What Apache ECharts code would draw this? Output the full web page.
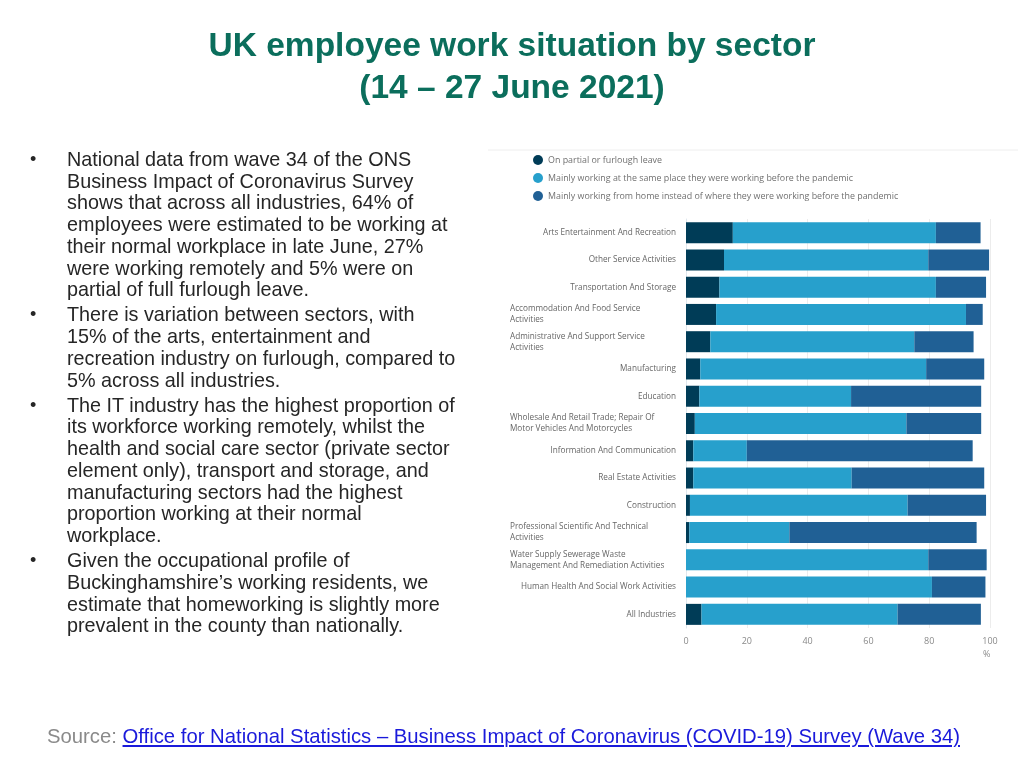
<!DOCTYPE html>
<html><head><meta charset="utf-8">
<script src="https://cdn.jsdelivr.net/npm/echarts@6/dist/echarts.min.js"></script>
<style>
html,body{margin:0;padding:0;background:#fff;width:1024px;height:768px;overflow:hidden}
#chart{position:absolute;left:0;top:0;width:1024px;height:768px}
.title{position:absolute;left:0;width:1024px;text-align:center;color:#0b6e5c;font-family:"Liberation Sans",Arial,sans-serif;font-weight:bold;font-size:33.5px;line-height:42px;top:24px}
.bullets{position:absolute;left:30px;top:149px;font-family:"Liberation Sans",Arial,sans-serif;font-size:19.8px;line-height:21.7px;color:#262626;white-space:nowrap}
.bullets p{margin:0 0 3.5px 0;position:relative;padding-left:37px}
.bullets p:before{content:"\2022";position:absolute;left:0;top:0;font-size:18px}
.source{position:absolute;left:47px;top:725px;font-family:"Liberation Sans",sans-serif;font-size:20.3px;color:#8a8a8a;white-space:nowrap}
.source a{color:#1a1adb;text-decoration:underline}
</style></head>
<body>
<div id="chart"></div>
<div class="title">UK employee work situation by sector<br>(14 – 27 June 2021)</div>
<div class="bullets">
<p>National data from wave 34 of the ONS<br>Business Impact of Coronavirus Survey<br>shows that across all industries, 64% of<br>employees were estimated to be working at<br>their normal workplace in late June, 27%<br>were working remotely and 5% were on<br>partial of full furlough leave.</p>
<p>There is variation between sectors, with<br>15% of the arts, entertainment and<br>recreation industry on furlough, compared to<br>5% across all industries.</p>
<p>The IT industry has the highest proportion of<br>its workforce working remotely, whilst the<br>health and social care sector (private sector<br>element only), transport and storage, and<br>manufacturing sectors had the highest<br>proportion working at their normal<br>workplace.</p>
<p>Given the occupational profile of<br>Buckinghamshire’s working residents, we<br>estimate that homeworking is slightly more<br>prevalent in the county than nationally.</p>
</div>
<div class="source">Source: <a>Office for National Statistics – Business Impact of Coronavirus (COVID-19) Survey (Wave 34)</a></div>
<script>
const categories = [
  "Arts Entertainment And Recreation",
  "Other Service Activities",
  "Transportation And Storage",
  "Accommodation And Food Service\nActivities",
  "Administrative And Support Service\nActivities",
  "Manufacturing",
  "Education",
  "Wholesale And Retail Trade; Repair Of\nMotor Vehicles And Motorcycles",
  "Information And Communication",
  "Real Estate Activities",
  "Construction",
  "Professional Scientific And Technical\nActivities",
  "Water Supply Sewerage Waste\nManagement And Remediation Activities",
  "Human Health And Social Work Activities",
  "All Industries"
];
const seriesNames = [
  "On partial or furlough leave",
  "Mainly working at the same place they were working before the pandemic",
  "Mainly working from home instead of where they were working before the pandemic"
];
const furlough  = [15.4, 12.5, 11.0, 9.9, 8.0, 4.7, 4.4, 2.9, 2.4, 2.4, 1.3, 1.1, 0, 0, 5.1];
const samePlace = [66.8, 67.2, 71.2, 82.2, 67.1, 74.3, 49.9, 69.6, 17.6, 52.1, 71.6, 32.9, 79.7, 80.9, 64.5];
const fromHome  = [14.7, 20.0, 16.5, 5.5, 19.5, 19.1, 42.8, 24.6, 74.3, 43.6, 25.8, 61.6, 19.2, 17.6, 27.4];
const xTicks = [0, 20, 40, 60, 80, 100];
const colors = ["#003c57", "#27a0cc", "#206095"];

const chart = echarts.init(document.getElementById('chart'), null, {renderer:'canvas'});
const dataSets = [furlough, samePlace, fromHome];
const labelFont = '"Open Sans","Noto Sans",sans-serif';
chart.setOption({
  animation:false,
  color: colors,
  legend:{
    orient:'vertical', left:528, top:150, itemWidth:10, itemHeight:10, itemGap:8,
    icon:'circle', selectedMode:false,
    textStyle:{color:'#707070', fontSize:8.9, fontFamily:labelFont},
    data: seriesNames
  },
  grid:{left:686, right:34, top:219, bottom:140, containLabel:false},
  xAxis:{
    type:'value', min:xTicks[0], max:xTicks[xTicks.length-1], interval:20,
    axisLine:{show:false}, axisTick:{show:false},
    splitLine:{lineStyle:{color:'#ececec', width:1}},
    axisLabel:{color:'#8a8a8a', fontSize:9, fontFamily:labelFont, margin:9}
  },
  yAxis:{
    type:'category', data:categories, inverse:true,
    axisLine:{lineStyle:{color:'#e0e8ee'}},
    axisTick:{length:6, lineStyle:{color:'#e0e8ee'}},
    axisLabel:{
      color:'#666', fontSize:8.2, fontFamily:labelFont, margin:10, lineHeight:11,
      formatter:function(v){
        if (v.indexOf('\n')<0) return v;
        return v.split('\n').map(function(s){return '{l|'+s+'}';}).join('\n');
      },
      rich:{l:{width:166, align:'left', color:'#666', fontSize:8.2, fontFamily:labelFont, lineHeight:11}}
    }
  },
  graphic:[
    {type:'line', shape:{x1:488, y1:150, x2:1018, y2:150}, style:{stroke:'#eeeeee', lineWidth:1}},
    {type:'text', left:983, top:650, style:{text:'%', fill:'#8a8a8a', fontSize:9, fontFamily:labelFont}}
  ],
  series: dataSets.map(function(d,i){
    return {name:seriesNames[i], type:'bar', stack:'total', barWidth:21, data:d,
      itemStyle:{color:colors[i]}};
  })
});
</script>
</body></html>
